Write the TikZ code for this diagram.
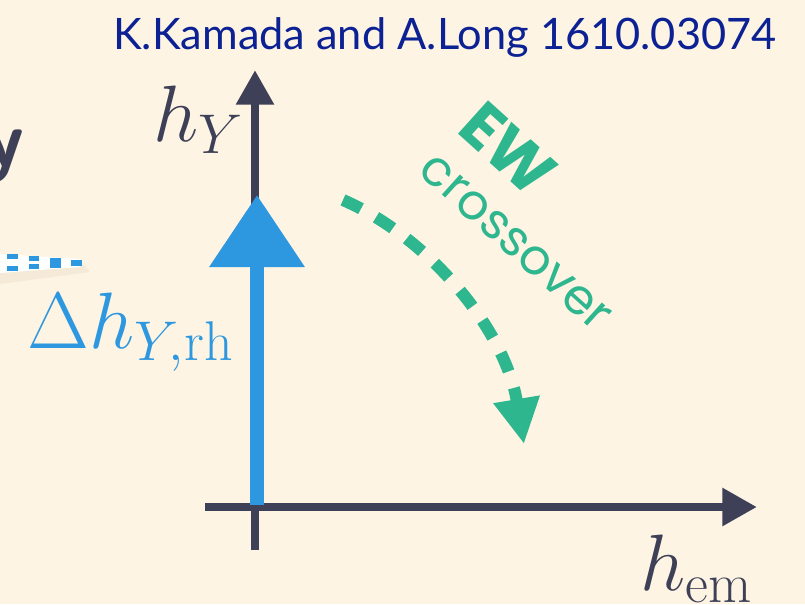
\RequirePackage{fix-cm}
\documentclass[tikz,border=0pt]{standalone}
\usepackage{amsmath,amssymb}
\usepackage{fontspec}
\newfontfamily\titlefont{Lato}
\newfontfamily\ewfont{Poppins}
\usetikzlibrary{arrows.meta,positioning}

\definecolor{paper}{HTML}{FDF4E3}
\definecolor{axisink}{HTML}{3E4057}
\definecolor{rhblue}{HTML}{2D97DF}
\definecolor{ewgreen}{HTML}{2EB68F}
\definecolor{refblue}{HTML}{0B2194}

\begin{document}
\begin{tikzpicture}[
  x=0.75pt, y=-0.75pt,
  % one unit is one pixel of the 805x604 reference, measured from the top
  axis/.style={line width=6.5pt, color=axisink,
    -{Triangle[length=26pt, width=27pt]}},
  rharrow/.style={line width=10.5pt, color=rhblue,
    -{Triangle[length=54pt, width=69pt]}},
  ewarrow/.style={line width=9pt, color=ewgreen, dash pattern=on 15pt off 13pt,
    -{Triangle[length=34pt, width=33pt]}},
  biglabel/.style={inner sep=0pt, anchor=base west, font=\fontsize{60}{63}\selectfont},
  ewlabel/.style={inner sep=0pt, color=ewgreen, rotate=-42}
]
\useasboundingbox (0,0) rectangle (805,604);
\fill[paper] (0,0) rectangle (805,604);

\node[inner sep=0pt, anchor=base west, color=refblue,
  font=\titlefont\fontsize{32.5}{35}\selectfont] (ref) at (113,49)
  {K.Kamada and A.Long 1610.03074};

% fragment of the previous slide element at the left edge
\node[inner sep=0pt, anchor=north east, color=axisink,
  font=\sffamily\bfseries\fontsize{60}{60}\selectfont] (cut) at (25,130) {y};
\fill[brown!60!black, opacity=0.06] (0,268) -- (84,265) -- (90,272) -- (0,284) -- cycle;
\fill[white] (0,254) -- (80,259) -- (80,267) -- (0,273) -- cycle;
\foreach \xa/\ya/\xb/\yb in {7/254/18/259, 7/266/18/271, 29/256/39/261,
  29/264/39/269, 50/258/61/268, 71/260/82/266}
  \fill[rhblue] (\xa,\ya) rectangle (\xb,\yb);

% axes
\coordinate (ybot) at (255,550);
\coordinate (ytop) at (255,70);
\coordinate (xleft) at (205,507);
\coordinate (xright) at (757,507);
\draw[axis] (ybot) -- (ytop);
\draw[axis] (xleft) -- (xright);
\node[biglabel, color=axisink] (hy) at (153,141) {$h_Y$};
\node[biglabel, color=axisink] (hem) at (640,590) {$h_{\mathrm{em}}$};

% reheating kick
\coordinate (rhstart) at (257,505);
\coordinate (rhend) at (257,195);
\draw[rharrow] (rhstart) -- (rhend);
\node[biglabel, color=rhblue] (dhy) at (27,348) {$\Delta h_{Y,\mathrm{rh}}$};

% crossover path
\coordinate (ewstart) at (343,200);
\coordinate (ewend) at (524,444);
\draw[ewarrow] (ewstart) .. controls (430,238) and (505,330) .. (ewend);
\node[ewlabel, font=\ewfont\bfseries\fontsize{48}{48}\selectfont] (ew) at (508,149) {EW};
\node[ewlabel, font=\ewfont\fontsize{37}{37}\selectfont] (cross) at (515,243) {crossover};
\end{tikzpicture}
\end{document}
